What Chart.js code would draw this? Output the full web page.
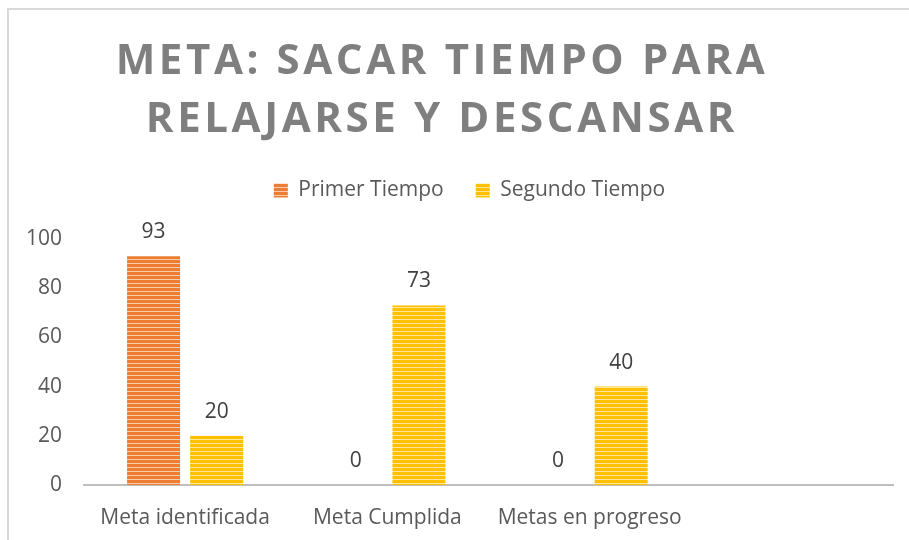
<!DOCTYPE html>
<html>
<head>
<meta charset="utf-8">
<script src="https://cdn.jsdelivr.net/npm/chart.js@4"></script>
<style>
    body { margin: 0; overflow: hidden; background: #fff; }
    #frame { position: absolute; left: 7px; top: 8px; width: 1000px; height: 1000px;
             border-left: 2px solid #d9d9d9; border-top: 2px solid #d9d9d9; }
    #goalChart { position: absolute; left: 0; top: 0; }
</style>
</head>
<body>
<div id="frame"></div>
<canvas id="goalChart" width="909" height="540"></canvas>
<script>
// ===== DATA =====
var categories = ['Meta identificada', 'Meta Cumplida', 'Metas en progreso', ''];
var primerTiempo = [93, 0, 0, null];
var segundoTiempo = [20, 73, 40, null];
var seriesNames = ['Primer Tiempo', 'Segundo Tiempo'];
var yTicks = [0, 20, 40, 60, 80, 100];
var titleLines = ['META: SACAR TIEMPO PARA', 'RELAJARSE Y DESCANSAR'];

// horizontal stripe fill like the original
function stripes(dark, light) {
    var c = document.createElement('canvas');
    c.width = 4;
    c.height = 4;
    var g = c.getContext('2d');
    g.fillStyle = dark;
    g.fillRect(0, 0, 4, 4);
    g.fillStyle = light;
    g.fillRect(0, 3, 4, 1);
    return g.createPattern(c, 'repeat');
}

var orangeFill = stripes('#ED7D31', '#F8CBAD');
var yellowFill = stripes('#FFC000', '#FFE699');

// title with wide letter spacing
var titlePlugin = {
    id: 'bigTitle',
    afterDraw: function(chart) {
        var ctx = chart.ctx;
        ctx.save();
        ctx.font = 'bold 42px "Open Sans"';
        ctx.fillStyle = '#7f7f7f';
        ctx.letterSpacing = '3.6px';
        ctx.textAlign = 'left';
        ctx.textBaseline = 'alphabetic';
        var baselines = [74, 132];
        titleLines.forEach(function(line, i) {
            var w = ctx.measureText(line).width;
            ctx.fillText(line, 442 - w / 2, baselines[i]);
        });
        ctx.restore();
    }
};

// legend sits a bit right of the canvas centre
var legendShift = {
    id: 'legendShift',
    afterLayout: function(chart) {
        chart.legend.left += 38;
    }
};

// value labels above the bars
var valueLabels = {
    id: 'valueLabels',
    afterDatasetsDraw: function(chart) {
        var ctx = chart.ctx;
        ctx.save();
        ctx.font = '21px "Open Sans"';
        ctx.fillStyle = '#404040';
        ctx.textAlign = 'center';
        ctx.textBaseline = 'alphabetic';
        chart.data.datasets.forEach(function(ds, i) {
            chart.getDatasetMeta(i).data.forEach(function(bar, j) {
                if (ds.data[j] === null) return;
                ctx.fillText(ds.data[j], bar.x, bar.y - 18);
            });
        });
        ctx.restore();
    }
};

var ctx = document.getElementById('goalChart').getContext('2d');
new Chart(ctx, {
    type: 'bar',
    data: {
        labels: categories,
        datasets: [{
            label: seriesNames[0],
            data: primerTiempo,
            backgroundColor: orangeFill,
            borderWidth: 0,
            categoryPercentage: 0.624,
            barPercentage: 0.84
        }, {
            label: seriesNames[1],
            data: segundoTiempo,
            backgroundColor: yellowFill,
            borderWidth: 0,
            categoryPercentage: 0.624,
            barPercentage: 0.84
        }]
    },
    options: {
        responsive: false,
        animation: false,
        layout: {
            padding: { left: 8, right: 16, top: 148, bottom: 10 }
        },
        plugins: {
            legend: {
                position: 'top',
                weight: 1000,
                labels: {
                    boxWidth: 14,
                    boxHeight: 14,
                    padding: 32,
                    color: '#595959',
                    font: { family: 'Open Sans', size: 21 }
                }
            },
            // empty spacer between legend and plot
            subtitle: {
                display: true,
                text: '',
                position: 'top',
                weight: 500,
                font: { size: 10 },
                padding: { top: 0, bottom: 16 }
            },
            tooltip: { enabled: false }
        },
        scales: {
            x: {
                afterFit: function(scale) { scale.height = 45; },
                grid: { display: false, drawTicks: false },
                border: { display: true, color: '#bfbfbf', width: 2 },
                ticks: {
                    padding: 20,
                    color: '#595959',
                    font: { family: 'Open Sans', size: 21 }
                }
            },
            y: {
                min: 0,
                max: 100,
                afterFit: function(scale) { scale.width = 76; },
                afterBuildTicks: function(scale) {
                    scale.ticks = yTicks.map(function(v) { return { value: v }; });
                },
                grid: { display: false, drawTicks: false },
                border: { display: false },
                ticks: {
                    padding: 22,
                    color: '#595959',
                    font: { family: 'Open Sans', size: 21 }
                }
            }
        }
    },
    plugins: [titlePlugin, legendShift, valueLabels]
});
</script>
</body>
</html>
